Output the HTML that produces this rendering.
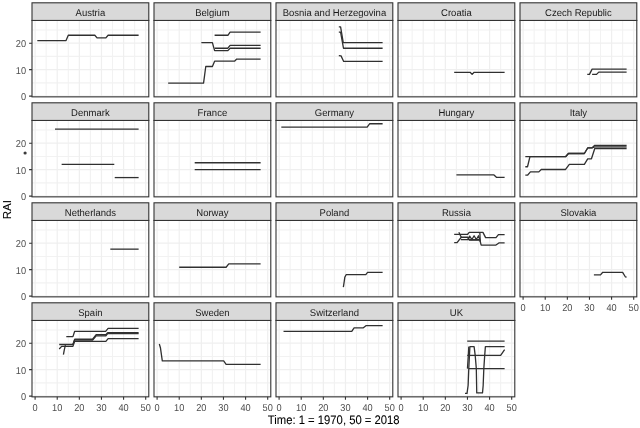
<!DOCTYPE html>
<html><head><meta charset="utf-8"><title>RAI</title><style>
html,body{margin:0;padding:0;background:#fff;overflow:hidden;}
svg{display:block;filter:grayscale(1);}
text{font-family:"Liberation Sans",sans-serif;text-rendering:geometricPrecision;}
.st{font-size:9.8px;fill:#1a1a1a;}
.tl{font-size:10px;fill:#4d4d4d;}
.at{font-size:11.6px;fill:#000;stroke:#000;stroke-width:0.08px;}
.at2{font-size:12.4px;fill:#000;stroke:#000;stroke-width:0.08px;}
</style></head>
<body>
<svg width="640" height="428" viewBox="0 0 640 428">
<rect x="0" y="0" width="640" height="428" fill="#fff"/>
<path d="M46.16 20.45V96.85M68.28 20.45V96.85M90.4 20.45V96.85M112.52 20.45V96.85M134.64 20.45V96.85M32 82.88H148.8M32 56.42H148.8M32 29.97H148.8" stroke="#f2f2f2" stroke-width="1.1" fill="none"/>
<path d="M35.1 20.45V96.85M57.22 20.45V96.85M79.34 20.45V96.85M101.46 20.45V96.85M123.58 20.45V96.85M145.7 20.45V96.85M32 96.1H148.8M32 69.65H148.8M32 43.2H148.8" stroke="#efefef" stroke-width="1.2" fill="none"/>
<path d="M37.31 40.55 L66.07 40.55 L68.28 35.26 L94.82 35.26 L97.04 37.91 L105.88 37.91 L108.1 35.26 L138.62 35.26" stroke="#303030" stroke-width="1.3" fill="none" stroke-linejoin="round"/>
<rect x="32" y="20.45" width="116.79" height="76.4" fill="none" stroke="#333" stroke-width="1.1"/>
<rect x="32" y="2.8" width="116.79" height="17.65" fill="#d9d9d9" stroke="#333" stroke-width="1.1"/>
<text transform="translate(90.4 16.3) scale(0.97 1)" text-anchor="middle" class="st">Austria</text>
<text transform="translate(26.1 100.15) scale(0.92 1)" text-anchor="end" class="tl">0</text>
<text transform="translate(26.1 73.7) scale(0.92 1)" text-anchor="end" class="tl">10</text>
<text transform="translate(26.1 47.25) scale(0.92 1)" text-anchor="end" class="tl">20</text>
<path d="M29.1 96.1H32M29.1 69.65H32M29.1 43.2H32" stroke="#333" stroke-width="1.1" fill="none"/>
<path d="M168.16 20.45V96.85M190.28 20.45V96.85M212.4 20.45V96.85M234.52 20.45V96.85M256.64 20.45V96.85M154 82.88H270.8M154 56.42H270.8M154 29.97H270.8" stroke="#f2f2f2" stroke-width="1.1" fill="none"/>
<path d="M157.1 20.45V96.85M179.22 20.45V96.85M201.34 20.45V96.85M223.46 20.45V96.85M245.58 20.45V96.85M267.7 20.45V96.85M154 96.1H270.8M154 69.65H270.8M154 43.2H270.8" stroke="#efefef" stroke-width="1.2" fill="none"/>
<path d="M214.61 35.26 L227.88 35.26 L230.1 32.09 L260.62 32.09" stroke="#303030" stroke-width="1.3" fill="none" stroke-linejoin="round"/>
<path d="M201.34 42.67 L212.4 42.67 L214.61 50.61 L227.88 50.61 L230.1 48.23 L260.62 48.23" stroke="#303030" stroke-width="1.3" fill="none" stroke-linejoin="round"/>
<path d="M214.61 48.23 L227.88 48.23 L230.1 45.32 L260.62 45.32" stroke="#303030" stroke-width="1.3" fill="none" stroke-linejoin="round"/>
<path d="M168.16 83.14 L203.55 83.14 L204.66 74.94 L205.76 66.48 L212.4 66.48 L214.61 61.19 L234.52 61.19 L236.73 59.07 L260.62 59.07" stroke="#303030" stroke-width="1.3" fill="none" stroke-linejoin="round"/>
<rect x="154" y="20.45" width="116.79" height="76.4" fill="none" stroke="#333" stroke-width="1.1"/>
<rect x="154" y="2.8" width="116.79" height="17.65" fill="#d9d9d9" stroke="#333" stroke-width="1.1"/>
<text transform="translate(212.4 16.3) scale(0.97 1)" text-anchor="middle" class="st">Belgium</text>
<path d="M290.16 20.45V96.85M312.28 20.45V96.85M334.4 20.45V96.85M356.52 20.45V96.85M378.64 20.45V96.85M276 82.88H392.8M276 56.42H392.8M276 29.97H392.8" stroke="#f2f2f2" stroke-width="1.1" fill="none"/>
<path d="M279.1 20.45V96.85M301.22 20.45V96.85M323.34 20.45V96.85M345.46 20.45V96.85M367.58 20.45V96.85M389.7 20.45V96.85M276 96.1H392.8M276 69.65H392.8M276 43.2H392.8" stroke="#efefef" stroke-width="1.2" fill="none"/>
<path d="M338.82 26.8 L340.59 26.8 L343.25 42.67 L382.62 42.67" stroke="#303030" stroke-width="1.3" fill="none" stroke-linejoin="round"/>
<path d="M338.82 32.09 L340.59 32.09 L343.47 48.23 L382.62 48.23" stroke="#303030" stroke-width="1.3" fill="none" stroke-linejoin="round"/>
<path d="M338.82 55.63 L341.04 55.9 L343.69 61.45 L382.62 61.45" stroke="#303030" stroke-width="1.3" fill="none" stroke-linejoin="round"/>
<rect x="276" y="20.45" width="116.79" height="76.4" fill="none" stroke="#333" stroke-width="1.1"/>
<rect x="276" y="2.8" width="116.79" height="17.65" fill="#d9d9d9" stroke="#333" stroke-width="1.1"/>
<text transform="translate(334.4 16.3) scale(0.97 1)" text-anchor="middle" class="st">Bosnia and Herzegovina</text>
<path d="M412.16 20.45V96.85M434.28 20.45V96.85M456.4 20.45V96.85M478.52 20.45V96.85M500.64 20.45V96.85M398 82.88H514.8M398 56.42H514.8M398 29.97H514.8" stroke="#f2f2f2" stroke-width="1.1" fill="none"/>
<path d="M401.1 20.45V96.85M423.22 20.45V96.85M445.34 20.45V96.85M467.46 20.45V96.85M489.58 20.45V96.85M511.7 20.45V96.85M398 96.1H514.8M398 69.65H514.8M398 43.2H514.8" stroke="#efefef" stroke-width="1.2" fill="none"/>
<path d="M454.19 72.29 L470.11 72.29 L472.11 74.41 L474.1 72.29 L504.62 72.29" stroke="#303030" stroke-width="1.3" fill="none" stroke-linejoin="round"/>
<rect x="398" y="20.45" width="116.79" height="76.4" fill="none" stroke="#333" stroke-width="1.1"/>
<rect x="398" y="2.8" width="116.79" height="17.65" fill="#d9d9d9" stroke="#333" stroke-width="1.1"/>
<text transform="translate(456.4 16.3) scale(0.97 1)" text-anchor="middle" class="st">Croatia</text>
<path d="M534.16 20.45V96.85M556.28 20.45V96.85M578.4 20.45V96.85M600.52 20.45V96.85M622.64 20.45V96.85M520 82.88H636.8M520 56.42H636.8M520 29.97H636.8" stroke="#f2f2f2" stroke-width="1.1" fill="none"/>
<path d="M523.1 20.45V96.85M545.22 20.45V96.85M567.34 20.45V96.85M589.46 20.45V96.85M611.58 20.45V96.85M633.7 20.45V96.85M520 96.1H636.8M520 69.65H636.8M520 43.2H636.8" stroke="#efefef" stroke-width="1.2" fill="none"/>
<path d="M587.25 74.41 L589.46 74.41 L592.11 69.12 L626.62 69.12" stroke="#303030" stroke-width="1.3" fill="none" stroke-linejoin="round"/>
<path d="M592.11 74.41 L596.54 74.41 L598.75 72.11 L626.62 72.11" stroke="#303030" stroke-width="1.3" fill="none" stroke-linejoin="round"/>
<rect x="520" y="20.45" width="116.79" height="76.4" fill="none" stroke="#333" stroke-width="1.1"/>
<rect x="520" y="2.8" width="116.79" height="17.65" fill="#d9d9d9" stroke="#333" stroke-width="1.1"/>
<text transform="translate(578.4 16.3) scale(0.97 1)" text-anchor="middle" class="st">Czech Republic</text>
<path d="M46.16 120.45V196.85M68.28 120.45V196.85M90.4 120.45V196.85M112.52 120.45V196.85M134.64 120.45V196.85M32 182.88H148.8M32 156.43H148.8M32 129.97H148.8" stroke="#f2f2f2" stroke-width="1.1" fill="none"/>
<path d="M35.1 120.45V196.85M57.22 120.45V196.85M79.34 120.45V196.85M101.46 120.45V196.85M123.58 120.45V196.85M145.7 120.45V196.85M32 196.1H148.8M32 169.65H148.8M32 143.2H148.8" stroke="#efefef" stroke-width="1.2" fill="none"/>
<path d="M55.01 129.18 L138.62 129.18" stroke="#303030" stroke-width="1.3" fill="none" stroke-linejoin="round"/>
<path d="M61.64 164.36 L114.29 164.36" stroke="#303030" stroke-width="1.3" fill="none" stroke-linejoin="round"/>
<path d="M114.73 177.58 L138.62 177.58" stroke="#303030" stroke-width="1.3" fill="none" stroke-linejoin="round"/>
<rect x="32" y="120.45" width="116.79" height="76.4" fill="none" stroke="#333" stroke-width="1.1"/>
<rect x="32" y="102.8" width="116.79" height="17.65" fill="#d9d9d9" stroke="#333" stroke-width="1.1"/>
<text transform="translate(90.4 116.3) scale(0.97 1)" text-anchor="middle" class="st">Denmark</text>
<text transform="translate(26.1 200.15) scale(0.92 1)" text-anchor="end" class="tl">0</text>
<text transform="translate(26.1 173.7) scale(0.92 1)" text-anchor="end" class="tl">10</text>
<text transform="translate(26.1 147.25) scale(0.92 1)" text-anchor="end" class="tl">20</text>
<path d="M29.1 196.1H32M29.1 169.65H32M29.1 143.2H32" stroke="#333" stroke-width="1.1" fill="none"/>
<path d="M168.16 120.45V196.85M190.28 120.45V196.85M212.4 120.45V196.85M234.52 120.45V196.85M256.64 120.45V196.85M154 182.88H270.8M154 156.43H270.8M154 129.97H270.8" stroke="#f2f2f2" stroke-width="1.1" fill="none"/>
<path d="M157.1 120.45V196.85M179.22 120.45V196.85M201.34 120.45V196.85M223.46 120.45V196.85M245.58 120.45V196.85M267.7 120.45V196.85M154 196.1H270.8M154 169.65H270.8M154 143.2H270.8" stroke="#efefef" stroke-width="1.2" fill="none"/>
<path d="M194.7 162.77 L260.62 162.77" stroke="#303030" stroke-width="1.3" fill="none" stroke-linejoin="round"/>
<path d="M194.7 169.65 L260.62 169.65" stroke="#303030" stroke-width="1.3" fill="none" stroke-linejoin="round"/>
<rect x="154" y="120.45" width="116.79" height="76.4" fill="none" stroke="#333" stroke-width="1.1"/>
<rect x="154" y="102.8" width="116.79" height="17.65" fill="#d9d9d9" stroke="#333" stroke-width="1.1"/>
<text transform="translate(212.4 116.3) scale(0.97 1)" text-anchor="middle" class="st">France</text>
<path d="M290.16 120.45V196.85M312.28 120.45V196.85M334.4 120.45V196.85M356.52 120.45V196.85M378.64 120.45V196.85M276 182.88H392.8M276 156.43H392.8M276 129.97H392.8" stroke="#f2f2f2" stroke-width="1.1" fill="none"/>
<path d="M279.1 120.45V196.85M301.22 120.45V196.85M323.34 120.45V196.85M345.46 120.45V196.85M367.58 120.45V196.85M389.7 120.45V196.85M276 196.1H392.8M276 169.65H392.8M276 143.2H392.8" stroke="#efefef" stroke-width="1.2" fill="none"/>
<path d="M281.31 127.2 L367.14 127.2 L369.57 123.76 L382.62 123.76" stroke="#303030" stroke-width="1.3" fill="none" stroke-linejoin="round"/>
<rect x="276" y="120.45" width="116.79" height="76.4" fill="none" stroke="#333" stroke-width="1.1"/>
<rect x="276" y="102.8" width="116.79" height="17.65" fill="#d9d9d9" stroke="#333" stroke-width="1.1"/>
<text transform="translate(334.4 116.3) scale(0.97 1)" text-anchor="middle" class="st">Germany</text>
<path d="M412.16 120.45V196.85M434.28 120.45V196.85M456.4 120.45V196.85M478.52 120.45V196.85M500.64 120.45V196.85M398 182.88H514.8M398 156.43H514.8M398 129.97H514.8" stroke="#f2f2f2" stroke-width="1.1" fill="none"/>
<path d="M401.1 120.45V196.85M423.22 120.45V196.85M445.34 120.45V196.85M467.46 120.45V196.85M489.58 120.45V196.85M511.7 120.45V196.85M398 196.1H514.8M398 169.65H514.8M398 143.2H514.8" stroke="#efefef" stroke-width="1.2" fill="none"/>
<path d="M456.4 174.94 L494 174.94 L496.66 177.45 L504.62 177.45" stroke="#303030" stroke-width="1.3" fill="none" stroke-linejoin="round"/>
<rect x="398" y="120.45" width="116.79" height="76.4" fill="none" stroke="#333" stroke-width="1.1"/>
<rect x="398" y="102.8" width="116.79" height="17.65" fill="#d9d9d9" stroke="#333" stroke-width="1.1"/>
<text transform="translate(456.4 116.3) scale(0.97 1)" text-anchor="middle" class="st">Hungary</text>
<path d="M534.16 120.45V196.85M556.28 120.45V196.85M578.4 120.45V196.85M600.52 120.45V196.85M622.64 120.45V196.85M520 182.88H636.8M520 156.43H636.8M520 129.97H636.8" stroke="#f2f2f2" stroke-width="1.1" fill="none"/>
<path d="M523.1 120.45V196.85M545.22 120.45V196.85M567.34 120.45V196.85M589.46 120.45V196.85M611.58 120.45V196.85M633.7 120.45V196.85M520 196.1H636.8M520 169.65H636.8M520 143.2H636.8" stroke="#efefef" stroke-width="1.2" fill="none"/>
<path d="M525.31 156.69 L565.57 156.69 L568.45 153.52 L584.37 153.52 L587.69 147.96 L591.89 147.96 L594.77 145.32 L626.62 145.32" stroke="#303030" stroke-width="1.3" fill="none" stroke-linejoin="round"/>
<path d="M525.31 166.74 L527.52 166.74 L529.96 156.69 L565.57 156.69 L568.45 153.52 L584.37 153.52 L587.69 147.96 L591.89 147.96 L594.77 146.9 L626.62 146.9" stroke="#303030" stroke-width="1.3" fill="none" stroke-linejoin="round"/>
<path d="M525.31 175.2 L527.52 175.2 L530.4 171.9 L538.81 171.9 L541.24 169.49 L565.57 169.49 L569.33 164.36 L584.37 164.36 L587.69 158.81 L591.45 158.81 L594.77 148.49 L626.62 148.49" stroke="#303030" stroke-width="1.3" fill="none" stroke-linejoin="round"/>
<rect x="520" y="120.45" width="116.79" height="76.4" fill="none" stroke="#333" stroke-width="1.1"/>
<rect x="520" y="102.8" width="116.79" height="17.65" fill="#d9d9d9" stroke="#333" stroke-width="1.1"/>
<text transform="translate(578.4 116.3) scale(0.97 1)" text-anchor="middle" class="st">Italy</text>
<path d="M46.16 220.45V296.85M68.28 220.45V296.85M90.4 220.45V296.85M112.52 220.45V296.85M134.64 220.45V296.85M32 282.88H148.8M32 256.43H148.8M32 229.98H148.8" stroke="#f2f2f2" stroke-width="1.1" fill="none"/>
<path d="M35.1 220.45V296.85M57.22 220.45V296.85M79.34 220.45V296.85M101.46 220.45V296.85M123.58 220.45V296.85M145.7 220.45V296.85M32 296.1H148.8M32 269.65H148.8M32 243.2H148.8" stroke="#efefef" stroke-width="1.2" fill="none"/>
<path d="M110.31 249.15 L138.62 249.15" stroke="#303030" stroke-width="1.3" fill="none" stroke-linejoin="round"/>
<rect x="32" y="220.45" width="116.79" height="76.4" fill="none" stroke="#333" stroke-width="1.1"/>
<rect x="32" y="202.8" width="116.79" height="17.65" fill="#d9d9d9" stroke="#333" stroke-width="1.1"/>
<text transform="translate(90.4 216.3) scale(0.97 1)" text-anchor="middle" class="st">Netherlands</text>
<text transform="translate(26.1 300.15) scale(0.92 1)" text-anchor="end" class="tl">0</text>
<text transform="translate(26.1 273.7) scale(0.92 1)" text-anchor="end" class="tl">10</text>
<text transform="translate(26.1 247.25) scale(0.92 1)" text-anchor="end" class="tl">20</text>
<path d="M29.1 296.1H32M29.1 269.65H32M29.1 243.2H32" stroke="#333" stroke-width="1.1" fill="none"/>
<path d="M168.16 220.45V296.85M190.28 220.45V296.85M212.4 220.45V296.85M234.52 220.45V296.85M256.64 220.45V296.85M154 282.88H270.8M154 256.43H270.8M154 229.98H270.8" stroke="#f2f2f2" stroke-width="1.1" fill="none"/>
<path d="M157.1 220.45V296.85M179.22 220.45V296.85M201.34 220.45V296.85M223.46 220.45V296.85M245.58 220.45V296.85M267.7 220.45V296.85M154 296.1H270.8M154 269.65H270.8M154 243.2H270.8" stroke="#efefef" stroke-width="1.2" fill="none"/>
<path d="M179.22 267.27 L226.11 267.27 L228.77 263.83 L260.62 263.83" stroke="#303030" stroke-width="1.3" fill="none" stroke-linejoin="round"/>
<rect x="154" y="220.45" width="116.79" height="76.4" fill="none" stroke="#333" stroke-width="1.1"/>
<rect x="154" y="202.8" width="116.79" height="17.65" fill="#d9d9d9" stroke="#333" stroke-width="1.1"/>
<text transform="translate(212.4 216.3) scale(0.97 1)" text-anchor="middle" class="st">Norway</text>
<path d="M290.16 220.45V296.85M312.28 220.45V296.85M334.4 220.45V296.85M356.52 220.45V296.85M378.64 220.45V296.85M276 282.88H392.8M276 256.43H392.8M276 229.98H392.8" stroke="#f2f2f2" stroke-width="1.1" fill="none"/>
<path d="M279.1 220.45V296.85M301.22 220.45V296.85M323.34 220.45V296.85M345.46 220.45V296.85M367.58 220.45V296.85M389.7 220.45V296.85M276 296.1H392.8M276 269.65H392.8M276 243.2H392.8" stroke="#efefef" stroke-width="1.2" fill="none"/>
<path d="M343.36 287.11 L344.13 282.08 L344.8 277.32 L346.12 274.68 L365.81 274.68 L367.58 272.4 L382.62 272.4" stroke="#303030" stroke-width="1.3" fill="none" stroke-linejoin="round"/>
<rect x="276" y="220.45" width="116.79" height="76.4" fill="none" stroke="#333" stroke-width="1.1"/>
<rect x="276" y="202.8" width="116.79" height="17.65" fill="#d9d9d9" stroke="#333" stroke-width="1.1"/>
<text transform="translate(334.4 216.3) scale(0.97 1)" text-anchor="middle" class="st">Poland</text>
<path d="M412.16 220.45V296.85M434.28 220.45V296.85M456.4 220.45V296.85M478.52 220.45V296.85M500.64 220.45V296.85M398 282.88H514.8M398 256.43H514.8M398 229.98H514.8" stroke="#f2f2f2" stroke-width="1.1" fill="none"/>
<path d="M401.1 220.45V296.85M423.22 220.45V296.85M445.34 220.45V296.85M467.46 220.45V296.85M489.58 220.45V296.85M511.7 220.45V296.85M398 296.1H514.8M398 269.65H514.8M398 243.2H514.8" stroke="#efefef" stroke-width="1.2" fill="none"/>
<path d="M454.19 234.47 L467.46 234.47 L469.23 232.36 L482.94 232.36 L485.6 237.65 L495.99 237.65 L498.43 234.6 L504.62 234.6" stroke="#303030" stroke-width="1.3" fill="none" stroke-linejoin="round"/>
<path d="M454.19 242.67 L457.06 242.67 L461.27 237.25 L467.9 237.25 L469.67 240.03 L479.85 240.03 L481.17 245.05 L495.99 245.05 L498.87 242.94 L504.62 242.94" stroke="#303030" stroke-width="1.3" fill="none" stroke-linejoin="round"/>
<path d="M460.82 239.63 L479.85 239.63" stroke="#303030" stroke-width="1.3" fill="none" stroke-linejoin="round"/>
<path d="M467.46 239.76 L469.67 236.06 L471.88 239.5 L474.1 235.79 L476.31 239.5 L478.52 235.79 L479.85 239.76" stroke="#303030" stroke-width="1.3" fill="none" stroke-linejoin="round"/>
<path d="M458.83 232.22 L461.27 237.25" stroke="#303030" stroke-width="1.3" fill="none" stroke-linejoin="round"/>
<path d="M479.85 232.88 L480.29 241.88" stroke="#303030" stroke-width="1.3" fill="none" stroke-linejoin="round"/>
<rect x="398" y="220.45" width="116.79" height="76.4" fill="none" stroke="#333" stroke-width="1.1"/>
<rect x="398" y="202.8" width="116.79" height="17.65" fill="#d9d9d9" stroke="#333" stroke-width="1.1"/>
<text transform="translate(456.4 216.3) scale(0.97 1)" text-anchor="middle" class="st">Russia</text>
<path d="M534.16 220.45V296.85M556.28 220.45V296.85M578.4 220.45V296.85M600.52 220.45V296.85M622.64 220.45V296.85M520 282.88H636.8M520 256.43H636.8M520 229.98H636.8" stroke="#f2f2f2" stroke-width="1.1" fill="none"/>
<path d="M523.1 220.45V296.85M545.22 220.45V296.85M567.34 220.45V296.85M589.46 220.45V296.85M611.58 220.45V296.85M633.7 220.45V296.85M520 296.1H636.8M520 269.65H636.8M520 243.2H636.8" stroke="#efefef" stroke-width="1.2" fill="none"/>
<path d="M593.88 274.81 L600.52 274.81 L602.73 272.3 L622.64 272.3 L625.29 276.79 L626.62 277.19" stroke="#303030" stroke-width="1.3" fill="none" stroke-linejoin="round"/>
<rect x="520" y="220.45" width="116.79" height="76.4" fill="none" stroke="#333" stroke-width="1.1"/>
<rect x="520" y="202.8" width="116.79" height="17.65" fill="#d9d9d9" stroke="#333" stroke-width="1.1"/>
<text transform="translate(578.4 216.3) scale(0.97 1)" text-anchor="middle" class="st">Slovakia</text>
<text transform="translate(523.1 310.55) scale(0.92 1)" text-anchor="middle" class="tl">0</text>
<text transform="translate(545.22 310.55) scale(0.92 1)" text-anchor="middle" class="tl">10</text>
<text transform="translate(567.34 310.55) scale(0.92 1)" text-anchor="middle" class="tl">20</text>
<text transform="translate(589.46 310.55) scale(0.92 1)" text-anchor="middle" class="tl">30</text>
<text transform="translate(611.58 310.55) scale(0.92 1)" text-anchor="middle" class="tl">40</text>
<text transform="translate(633.7 310.55) scale(0.92 1)" text-anchor="middle" class="tl">50</text>
<path d="M523.1 296.85V299.75M545.22 296.85V299.75M567.34 296.85V299.75M589.46 296.85V299.75M611.58 296.85V299.75M633.7 296.85V299.75" stroke="#333" stroke-width="1.1" fill="none"/>
<path d="M46.16 320.45V396.85M68.28 320.45V396.85M90.4 320.45V396.85M112.52 320.45V396.85M134.64 320.45V396.85M32 382.88H148.8M32 356.43H148.8M32 329.98H148.8" stroke="#f2f2f2" stroke-width="1.1" fill="none"/>
<path d="M35.1 320.45V396.85M57.22 320.45V396.85M79.34 320.45V396.85M101.46 320.45V396.85M123.58 320.45V396.85M145.7 320.45V396.85M32 396.1H148.8M32 369.65H148.8M32 343.2H148.8" stroke="#efefef" stroke-width="1.2" fill="none"/>
<path d="M66.29 336.59 L72.93 336.59 L74.69 331.3 L105.66 331.3 L108.1 328.39 L138.62 328.39" stroke="#303030" stroke-width="1.3" fill="none" stroke-linejoin="round"/>
<path d="M59.21 344.52 L72.93 344.52 L74.69 339.23 L92.61 339.23 L96.15 334.74 L105.88 334.74 L107.65 332.62 L138.62 332.62" stroke="#303030" stroke-width="1.3" fill="none" stroke-linejoin="round"/>
<path d="M72.93 344.52 L74.69 340.03 L92.61 340.03 L96.15 335.79 L105.88 335.79 L107.65 333.68 L138.62 333.68" stroke="#303030" stroke-width="1.3" fill="none" stroke-linejoin="round"/>
<path d="M59.21 349.02 L61.64 346.37 L72.93 346.37 L74.69 341.35 L105.88 341.35 L108.1 338.7 L138.62 338.7" stroke="#303030" stroke-width="1.3" fill="none" stroke-linejoin="round"/>
<path d="M65.4 345.05 L64.3 349.81 L63.41 354.57" stroke="#303030" stroke-width="1.3" fill="none" stroke-linejoin="round"/>
<rect x="32" y="320.45" width="116.79" height="76.4" fill="none" stroke="#333" stroke-width="1.1"/>
<rect x="32" y="302.8" width="116.79" height="17.65" fill="#d9d9d9" stroke="#333" stroke-width="1.1"/>
<text transform="translate(90.4 316.3) scale(0.97 1)" text-anchor="middle" class="st">Spain</text>
<text transform="translate(26.1 400.15) scale(0.92 1)" text-anchor="end" class="tl">0</text>
<text transform="translate(26.1 373.7) scale(0.92 1)" text-anchor="end" class="tl">10</text>
<text transform="translate(26.1 347.25) scale(0.92 1)" text-anchor="end" class="tl">20</text>
<path d="M29.1 396.1H32M29.1 369.65H32M29.1 343.2H32" stroke="#333" stroke-width="1.1" fill="none"/>
<text transform="translate(35.1 410.55) scale(0.92 1)" text-anchor="middle" class="tl">0</text>
<text transform="translate(57.22 410.55) scale(0.92 1)" text-anchor="middle" class="tl">10</text>
<text transform="translate(79.34 410.55) scale(0.92 1)" text-anchor="middle" class="tl">20</text>
<text transform="translate(101.46 410.55) scale(0.92 1)" text-anchor="middle" class="tl">30</text>
<text transform="translate(123.58 410.55) scale(0.92 1)" text-anchor="middle" class="tl">40</text>
<text transform="translate(145.7 410.55) scale(0.92 1)" text-anchor="middle" class="tl">50</text>
<path d="M35.1 396.85V399.75M57.22 396.85V399.75M79.34 396.85V399.75M101.46 396.85V399.75M123.58 396.85V399.75M145.7 396.85V399.75" stroke="#333" stroke-width="1.1" fill="none"/>
<path d="M168.16 320.45V396.85M190.28 320.45V396.85M212.4 320.45V396.85M234.52 320.45V396.85M256.64 320.45V396.85M154 382.88H270.8M154 356.43H270.8M154 329.98H270.8" stroke="#f2f2f2" stroke-width="1.1" fill="none"/>
<path d="M157.1 320.45V396.85M179.22 320.45V396.85M201.34 320.45V396.85M223.46 320.45V396.85M245.58 320.45V396.85M267.7 320.45V396.85M154 396.1H270.8M154 369.65H270.8M154 343.2H270.8" stroke="#efefef" stroke-width="1.2" fill="none"/>
<path d="M159.31 343.99 L160.42 347.7 L162.3 360.92 L223.68 360.92 L226.11 364.36 L260.62 364.36" stroke="#303030" stroke-width="1.3" fill="none" stroke-linejoin="round"/>
<rect x="154" y="320.45" width="116.79" height="76.4" fill="none" stroke="#333" stroke-width="1.1"/>
<rect x="154" y="302.8" width="116.79" height="17.65" fill="#d9d9d9" stroke="#333" stroke-width="1.1"/>
<text transform="translate(212.4 316.3) scale(0.97 1)" text-anchor="middle" class="st">Sweden</text>
<text transform="translate(157.1 410.55) scale(0.92 1)" text-anchor="middle" class="tl">0</text>
<text transform="translate(179.22 410.55) scale(0.92 1)" text-anchor="middle" class="tl">10</text>
<text transform="translate(201.34 410.55) scale(0.92 1)" text-anchor="middle" class="tl">20</text>
<text transform="translate(223.46 410.55) scale(0.92 1)" text-anchor="middle" class="tl">30</text>
<text transform="translate(245.58 410.55) scale(0.92 1)" text-anchor="middle" class="tl">40</text>
<text transform="translate(267.7 410.55) scale(0.92 1)" text-anchor="middle" class="tl">50</text>
<path d="M157.1 396.85V399.75M179.22 396.85V399.75M201.34 396.85V399.75M223.46 396.85V399.75M245.58 396.85V399.75M267.7 396.85V399.75" stroke="#333" stroke-width="1.1" fill="none"/>
<path d="M290.16 320.45V396.85M312.28 320.45V396.85M334.4 320.45V396.85M356.52 320.45V396.85M378.64 320.45V396.85M276 382.88H392.8M276 356.43H392.8M276 329.98H392.8" stroke="#f2f2f2" stroke-width="1.1" fill="none"/>
<path d="M279.1 320.45V396.85M301.22 320.45V396.85M323.34 320.45V396.85M345.46 320.45V396.85M367.58 320.45V396.85M389.7 320.45V396.85M276 396.1H392.8M276 369.65H392.8M276 343.2H392.8" stroke="#efefef" stroke-width="1.2" fill="none"/>
<path d="M283.52 331.3 L351.76 331.3 L354.09 327.86 L363.38 327.86 L366.25 325.61 L382.62 325.61" stroke="#303030" stroke-width="1.3" fill="none" stroke-linejoin="round"/>
<rect x="276" y="320.45" width="116.79" height="76.4" fill="none" stroke="#333" stroke-width="1.1"/>
<rect x="276" y="302.8" width="116.79" height="17.65" fill="#d9d9d9" stroke="#333" stroke-width="1.1"/>
<text transform="translate(334.4 316.3) scale(0.97 1)" text-anchor="middle" class="st">Switzerland</text>
<text transform="translate(279.1 410.55) scale(0.92 1)" text-anchor="middle" class="tl">0</text>
<text transform="translate(301.22 410.55) scale(0.92 1)" text-anchor="middle" class="tl">10</text>
<text transform="translate(323.34 410.55) scale(0.92 1)" text-anchor="middle" class="tl">20</text>
<text transform="translate(345.46 410.55) scale(0.92 1)" text-anchor="middle" class="tl">30</text>
<text transform="translate(367.58 410.55) scale(0.92 1)" text-anchor="middle" class="tl">40</text>
<text transform="translate(389.7 410.55) scale(0.92 1)" text-anchor="middle" class="tl">50</text>
<path d="M279.1 396.85V399.75M301.22 396.85V399.75M323.34 396.85V399.75M345.46 396.85V399.75M367.58 396.85V399.75M389.7 396.85V399.75" stroke="#333" stroke-width="1.1" fill="none"/>
<path d="M412.16 320.45V396.85M434.28 320.45V396.85M456.4 320.45V396.85M478.52 320.45V396.85M500.64 320.45V396.85M398 382.88H514.8M398 356.43H514.8M398 329.98H514.8" stroke="#f2f2f2" stroke-width="1.1" fill="none"/>
<path d="M401.1 320.45V396.85M423.22 320.45V396.85M445.34 320.45V396.85M467.46 320.45V396.85M489.58 320.45V396.85M511.7 320.45V396.85M398 396.1H514.8M398 369.65H514.8M398 343.2H514.8" stroke="#efefef" stroke-width="1.2" fill="none"/>
<path d="M467.24 341.08 L504.62 341.08" stroke="#303030" stroke-width="1.3" fill="none" stroke-linejoin="round"/>
<path d="M465.03 393.32 L467.02 393.32 L468.12 385.52 L468.79 368.59 L469.45 355.37 L469.89 346.64 L474.1 346.64 L475.2 355.37 L476.31 368.59 L476.75 392.93 L482.5 392.93 L483.17 385.52 L483.83 368.59 L484.71 355.37 L485.38 346.64 L504.62 346.64" stroke="#303030" stroke-width="1.3" fill="none" stroke-linejoin="round"/>
<path d="M467.24 355.37 L500.64 355.37 L504.62 349.55" stroke="#303030" stroke-width="1.3" fill="none" stroke-linejoin="round"/>
<path d="M468.79 368.59 L504.62 368.59" stroke="#303030" stroke-width="1.3" fill="none" stroke-linejoin="round"/>
<path d="M467.46 368.59 L468.34 355.37 L468.79 346.64" stroke="#303030" stroke-width="1.3" fill="none" stroke-linejoin="round"/>
<rect x="398" y="320.45" width="116.79" height="76.4" fill="none" stroke="#333" stroke-width="1.1"/>
<rect x="398" y="302.8" width="116.79" height="17.65" fill="#d9d9d9" stroke="#333" stroke-width="1.1"/>
<text transform="translate(456.4 316.3) scale(0.97 1)" text-anchor="middle" class="st">UK</text>
<text transform="translate(401.1 410.55) scale(0.92 1)" text-anchor="middle" class="tl">0</text>
<text transform="translate(423.22 410.55) scale(0.92 1)" text-anchor="middle" class="tl">10</text>
<text transform="translate(445.34 410.55) scale(0.92 1)" text-anchor="middle" class="tl">20</text>
<text transform="translate(467.46 410.55) scale(0.92 1)" text-anchor="middle" class="tl">30</text>
<text transform="translate(489.58 410.55) scale(0.92 1)" text-anchor="middle" class="tl">40</text>
<text transform="translate(511.7 410.55) scale(0.92 1)" text-anchor="middle" class="tl">50</text>
<path d="M401.1 396.85V399.75M423.22 396.85V399.75M445.34 396.85V399.75M467.46 396.85V399.75M489.58 396.85V399.75M511.7 396.85V399.75" stroke="#333" stroke-width="1.1" fill="none"/>
<circle cx="25.1" cy="153" r="1.6" fill="#3a3a3a"/>
<text transform="translate(333.7 423.6) scale(0.91 1)" text-anchor="middle" class="at2">Time: 1 = 1970, 50 = 2018</text>
<text transform="translate(11.2 209.6) rotate(-90)" text-anchor="middle" class="at">RAI</text>
</svg>
</body></html>
